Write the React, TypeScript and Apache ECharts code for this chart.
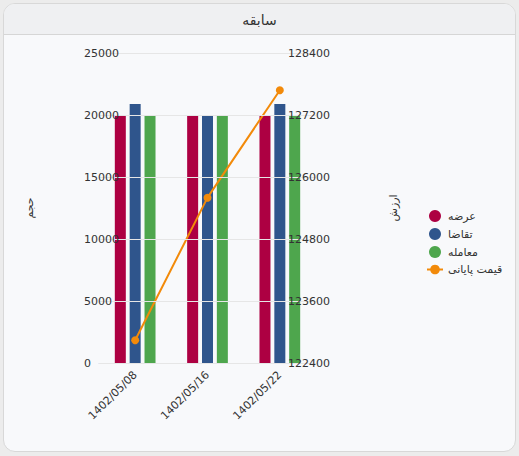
import React, { useEffect, useRef } from "react";
import * as echarts from "echarts";

const categories = ["1402/05/08", "1402/05/16", "1402/05/22"];
const supplyValues = [20000, 20000, 20000];
const demandValues = [20890, 20000, 20890];
const tradeValues = [20000, 20000, 20000];
const closingPrice = [122840, 125600, 127680];
const seriesNames = ["عرضه", "تقاضا", "معامله", "قیمت پایانی"];
const titleText = "سابقه";
const leftAxisName = "حجم";
const rightAxisName = "ارزش";

const FONT = "'DejaVu Sans', 'Noto Sans', sans-serif";

export default function App() {
  const ref = useRef<HTMLDivElement>(null);
  useEffect(() => {
    if (!ref.current) return;
    const chart = echarts.init(ref.current, undefined, { renderer: "svg" });
    chart.setOption({
      animation: false,
      textStyle: { fontFamily: FONT },
      title: {
        text: titleText,
        left: "center",
        top: 8,
        textStyle: { fontSize: 14, fontWeight: "normal", color: "#333", fontFamily: FONT },
      },
      legend: {
        orient: "vertical",
        left: 421,
        top: 205,
        itemWidth: 16,
        itemHeight: 12,
        itemGap: 6,
        textStyle: { fontSize: 11, color: "#333", fontFamily: FONT },
        data: [
          { name: seriesNames[0], icon: "circle" },
          { name: seriesNames[1], icon: "circle" },
          { name: seriesNames[2], icon: "circle" },
          { name: seriesNames[3] },
        ],
      },
      grid: { left: 99, top: 53, width: 217, height: 310, containLabel: false },
      xAxis: {
        type: "category",
        data: categories,
        axisTick: { show: false },
        axisLine: { lineStyle: { color: "#ccd6eb" } },
        axisLabel: { rotate: 45, fontSize: 11, color: "#333", margin: 10, fontFamily: FONT },
      },
      yAxis: [
        {
          type: "value",
          min: 0,
          max: 25000,
          interval: 5000,
          position: "left",
          z: 10,
          name: leftAxisName,
          nameLocation: "middle",
          nameGap: 64,
          nameTextStyle: { fontSize: 11, color: "#333", fontFamily: FONT },
          axisLine: { show: false },
          axisTick: { show: false },
          axisLabel: {
            align: "left",
            margin: 15,
            fontSize: 11,
            color: "#333",
            fontFamily: FONT,
            formatter: (v: number) => String(v),
          },
          splitLine: { lineStyle: { color: "#e6e6e6" } },
        },
        {
          type: "value",
          min: 122400,
          max: 128400,
          interval: 1200,
          position: "right",
          z: 10,
          name: rightAxisName,
          nameLocation: "middle",
          nameGap: 72,
          nameTextStyle: { fontSize: 11, color: "#333", fontFamily: FONT },
          axisLine: { show: false },
          axisTick: { show: false },
          axisLabel: {
            align: "right",
            margin: 14,
            fontSize: 11,
            color: "#333",
            fontFamily: FONT,
            formatter: (v: number) => String(v),
          },
          splitLine: { show: false },
        },
      ],
      series: [
        { name: seriesNames[0], type: "bar", data: supplyValues, barWidth: 11, barGap: "35%", itemStyle: { color: "#ad0042" } },
        { name: seriesNames[1], type: "bar", data: demandValues, barWidth: 11, barGap: "35%", itemStyle: { color: "#2f558c" } },
        { name: seriesNames[2], type: "bar", data: tradeValues, barWidth: 11, barGap: "35%", itemStyle: { color: "#4ea64d" } },
        {
          name: seriesNames[3],
          type: "line",
          yAxisIndex: 1,
          data: closingPrice,
          symbol: "circle",
          symbolSize: 8,
          lineStyle: { color: "#f28a0a", width: 2 },
          itemStyle: { color: "#f28a0a" },
        },
      ],
    });
    return () => chart.dispose();
  }, []);

  return (
    <div style={{ position: "fixed", left: 0, top: 0, width: 519, height: 456, background: "#ececec" }}>
      <div
        style={{
          position: "absolute",
          left: 3,
          top: 3,
          width: 511,
          height: 447,
          border: "1px solid #d8d8d8",
          borderRadius: 12,
          background: "#f8f9fb",
          overflow: "hidden",
        }}
      >
        <div style={{ height: 30, background: "#eff0f2", borderBottom: "1px solid #d6d6d6" }} />
      </div>
      <div ref={ref} style={{ position: "absolute", left: 0, top: 0, width: 519, height: 456 }} />
    </div>
  );
}
